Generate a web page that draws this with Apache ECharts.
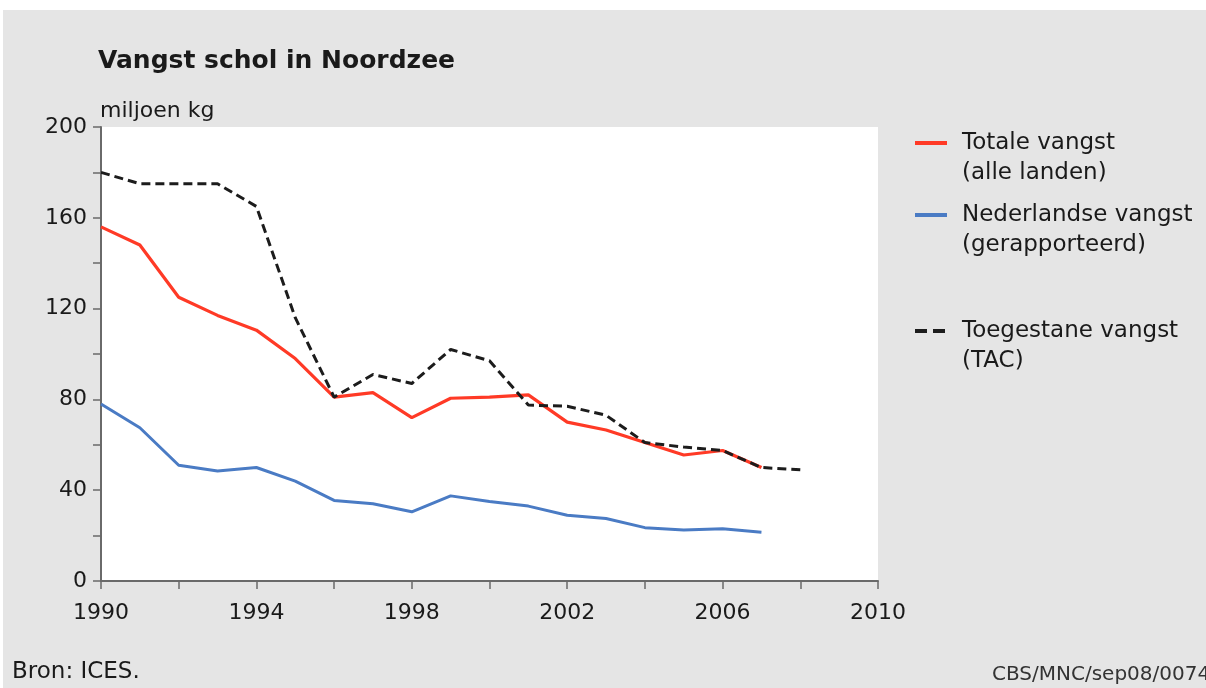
<!DOCTYPE html>
<html>
<head>
<meta charset="utf-8">
<script src="https://cdn.jsdelivr.net/npm/echarts@6/dist/echarts.min.js"></script>
<style>
html,body{margin:0;padding:0;background:#ffffff;}
#chart{width:1206px;height:688px;}
</style>
</head>
<body>
<div id="chart"></div>
<script>
// ---- data ----
const years = [1990,1991,1992,1993,1994,1995,1996,1997,1998,1999,2000,2001,2002,2003,2004,2005,2006,2007,2008];
const totaleVangst = [156,148,125,117,110.5,98,81,83,72,80.5,81,82,70,66.5,61,55.5,57.5,50];
const nederlandseVangst = [78,67.5,51,48.5,50,44,35.5,34,30.5,37.5,35,33,29,27.5,23.5,22.5,23,21.5];
const toegestaneVangst = [180,175,175,175,165,116,81,91,87,102,97,77.5,77,73,61,59,57.5,50,49];
const seriesNames = ['Totale vangst (alle landen)','Nederlandse vangst (gerapporteerd)','Toegestane vangst (TAC)'];
const yTicks = [0,40,80,120,160,200];
const xTicks = [1990,1994,1998,2002,2006,2010];

const FONT = 'DejaVu Sans';
const TXT = '#1a1a1a';

function pairs(vals){ return vals.map((v,i)=>[years[i], v]); }

const chart = echarts.init(document.getElementById('chart'), null, {renderer:'canvas'});

function legendFor(name, top, dash){
  return {
    data:[name], left:913, top:top, orient:'vertical', padding:0,
    itemWidth:32, itemHeight:14, selectedMode:false,
    itemStyle:{opacity:0},
    lineStyle: dash ? {width:4, type:dash} : {width:4},
    formatter: n => '\n' + n.replace(' (', '\n('),
    textStyle:{fontFamily:FONT, fontSize:23, color:TXT, lineHeight:30, padding:[0,0,0,10]}
  };
}

chart.setOption({
  backgroundColor:'#e5e5e5',
  animation:false,
  title:[
    {text:'Vangst schol in Noordzee', left:98, top:49, padding:0,
     textStyle:{fontFamily:FONT, fontSize:25, fontWeight:'bold', color:TXT}},
    {text:'miljoen kg', left:100, top:100, padding:0,
     textStyle:{fontFamily:FONT, fontSize:22, fontWeight:'normal', color:TXT}},
    {text:'Bron: ICES.', left:12, top:661, padding:0,
     textStyle:{fontFamily:FONT, fontSize:23, fontWeight:'normal', color:TXT}},
    {text:'CBS/MNC/sep08/0074', left:992, top:665, padding:0,
     textStyle:{fontFamily:FONT, fontSize:20, fontWeight:'normal', color:'#333'}}
  ],
  legend:[
    legendFor(seriesNames[0], 98),
    legendFor(seriesNames[1], 170),
    legendFor(seriesNames[2], 286, [12,6])
  ],
  graphic:[
    {type:'rect', shape:{x:0,y:0,width:1206,height:10}, style:{fill:'#ffffff'}, silent:true},
    {type:'rect', shape:{x:0,y:0,width:3,height:688}, style:{fill:'#ffffff'}, silent:true}
  ],
  grid:{left:101, top:127, right:328, bottom:107, show:true, backgroundColor:'#ffffff', borderWidth:0},
  xAxis:{
    type:'value', min:1990, max:2010, interval:2,
    axisLine:{show:true, lineStyle:{color:'#6a6a6a', width:2}},
    axisTick:{show:true, length:8, lineStyle:{color:'#6a6a6a', width:1.5}},
    splitLine:{show:false},
    axisLabel:{
      margin:21, fontFamily:FONT, fontSize:22, color:TXT,
      formatter: v => xTicks.indexOf(v) >= 0 ? String(v) : ''
    }
  },
  yAxis:{
    type:'value', min:0, max:200, interval:20,
    axisLine:{show:true, lineStyle:{color:'#6a6a6a', width:2}},
    axisTick:{show:true, length:8, lineStyle:{color:'#6a6a6a', width:1.5}},
    splitLine:{show:false},
    axisLabel:{
      margin:14, fontFamily:FONT, fontSize:22, color:TXT,
      formatter: v => yTicks.indexOf(v) >= 0 ? String(v) : ''
    }
  },
  series:[
    {name:seriesNames[1], type:'line', data:pairs(nederlandseVangst), symbol:'none',
     lineStyle:{color:'#4a7bc4', width:3}, itemStyle:{color:'#4a7bc4'}, z:2},
    {name:seriesNames[0], type:'line', data:pairs(totaleVangst), symbol:'none',
     lineStyle:{color:'#ff3a26', width:3.2}, itemStyle:{color:'#ff3a26'}, z:3},
    {name:seriesNames[2], type:'line', data:pairs(toegestaneVangst), symbol:'none',
     lineStyle:{color:'#1c1c1c', width:3, type:[9,5]}, itemStyle:{color:'#1c1c1c'}, z:4}
  ]
});
</script>
</body>
</html>
